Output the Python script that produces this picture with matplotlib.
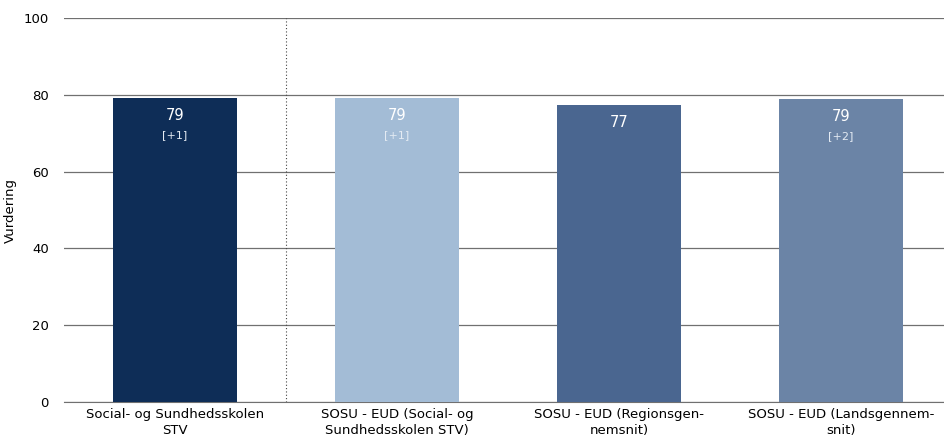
import matplotlib
matplotlib.use("Agg")
import matplotlib.pyplot as plt

categories = ["Social- og Sundhedsskolen\nSTV",
              "SOSU - EUD (Social- og\nSundhedsskolen STV)",
              "SOSU - EUD (Regionsgen-\nnemsnit)",
              "SOSU - EUD (Landsgennem-\nsnit)"]
values = [79.2, 79.2, 77.3, 78.9]
value_labels = ["79", "79", "77", "79"]
change_labels = ["[+1]", "[+1]", "", "[+2]"]
colors = ["#0e2d57", "#a3bcd6", "#4a6690", "#6b84a6"]
yticks = [0, 20, 40, 60, 80, 100]

plt.rcParams['font.family'] = ['DejaVu Sans']
fig = plt.figure(figsize=(9.44, 4.46), dpi=100)
ax = fig.add_axes([64/944, 1-402/446, (944-64)/944, (402-18)/446])

x = list(range(len(categories)))
ax.bar(x, values, width=0.56, color=colors, zorder=3)
for xi, v, vl, cl in zip(x, values, value_labels, change_labels):
    ax.text(xi, v - 4.6, vl, ha="center", va="center", color="white", fontsize=10.5, zorder=4)
    if cl:
        ax.text(xi, v - 9.6, cl, ha="center", va="center", color="#e4ebf3", fontsize=8, zorder=4)

ax.set_ylim(0, 100)
ax.set_xlim(-0.5, 3.465)
ax.set_yticks(yticks)
ax.set_xticks(x)
ax.set_xticklabels(categories, fontsize=9.5, linespacing=1.35)
ax.tick_params(axis="y", labelsize=9.5, length=0, pad=11)
ax.tick_params(axis="x", length=0, pad=4)
ax.yaxis.grid(True, color="#707070", linewidth=0.9, zorder=0)
ax.set_axisbelow(True)
for s in ["top", "right", "left"]:
    ax.spines[s].set_visible(False)
ax.spines["bottom"].set_color("#707070")
ax.axvline(0.5, color="#444444", linestyle=(0, (1, 2)), linewidth=0.8, zorder=2)
ax.set_ylabel("Vurdering", fontsize=9.5)
ax.yaxis.set_label_coords(-0.053, 0.5)

fig.savefig("out.png", dpi=100)
